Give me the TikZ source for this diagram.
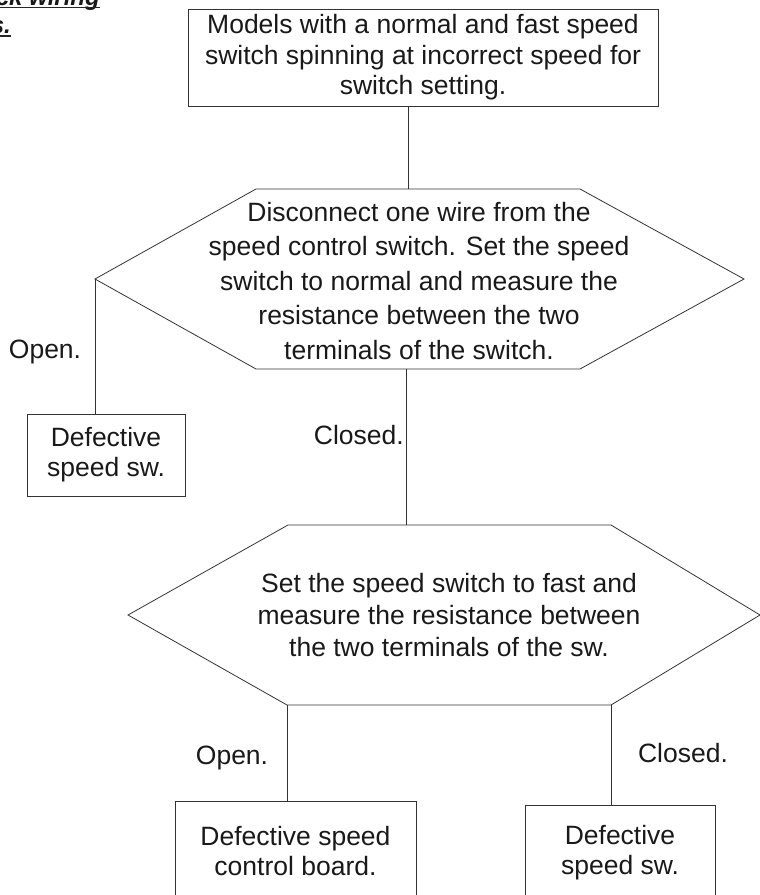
\documentclass[tikz,border=0pt]{standalone}
\usepackage{fontspec}
\setmainfont{Liberation Sans}
\begin{document}
\begin{tikzpicture}[x=1bp,y=-1bp,
  ln/.style={draw=black!80, line width=0.8bp},
  box/.style={draw=black!80, line width=0.8bp, align=center, inner sep=0pt, text=black!90},
  lbl/.style={text=black!90, inner sep=0pt, align=center},
  every node/.style={font=\fontsize{26.5bp}{33bp}\selectfont}]
\useasboundingbox (0,0) rectangle (760,895);

% cropped heading fragments
\node[lbl, anchor=base east, font=\fontsize{24bp}{28bp}\selectfont\bfseries\itshape] (hd1) at (100,5) {ck wiring};
\node[lbl, anchor=base east, font=\fontsize{24bp}{28bp}\selectfont\bfseries\itshape] (hd2) at (11,33) {s.};
\draw[black!85, line width=1.4bp] ([yshift=-2.5bp]hd1.base west) -- ([yshift=-2.5bp]hd1.base east);
\draw[black!85, line width=1.4bp] ([yshift=-3bp]hd2.base west) -- ([yshift=-3bp]hd2.base east);

% top box
\node[box, minimum width=470bp, minimum height=97bp, font=\fontsize{26.5bp}{30.5bp}\selectfont] (tb) at (423,57.5)
  {Models with a normal and fast speed\\switch spinning at incorrect speed for\\switch setting.};

% hexagon 1
\coordinate (h1a) at (256,189);
\coordinate (h1b) at (580,189);
\coordinate (h1c) at (744,279);
\coordinate (h1d) at (580,369);
\coordinate (h1e) at (256,369);
\coordinate (h1f) at (95,279);
\draw[ln] (h1a) -- (h1b) -- (h1c) -- (h1d) -- (h1e) -- (h1f) -- cycle;
\node[lbl, font=\fontsize{26.5bp}{34.5bp}\selectfont] (h1) at (419,281)
  {Disconnect one wire from the\\speed control switch. Set the speed\\switch to normal and measure the\\resistance between the two\\terminals of the switch.};
\coordinate (h1top) at (408,189);
\coordinate (h1bot) at (406,369);

% hexagon 2
\coordinate (h2a) at (288,525);
\coordinate (h2b) at (611,525);
\coordinate (h2c) at (760,615);
\coordinate (h2d) at (611,705);
\coordinate (h2e) at (287,705);
\coordinate (h2f) at (128,615);
\draw[ln] (h2a) -- (h2b) -- (h2c) -- (h2d) -- (h2e) -- (h2f) -- cycle;
\node[lbl, font=\fontsize{26.5bp}{32bp}\selectfont] (h2) at (449,615)
  {Set the speed switch to fast and\\measure the resistance between\\the two terminals of the sw.};
\coordinate (h2top) at (406,525);

% result boxes
\node[box, minimum width=158bp, minimum height=82bp, font=\fontsize{26.5bp}{30bp}\selectfont] (lb) at (106,455)
  {Defective\\speed sw.};
\node[box, minimum width=241bp, minimum height=100bp, font=\fontsize{26.5bp}{30bp}\selectfont] (blb) at (295.5,851)
  {Defective speed\\control board.};
\node[box, minimum width=190bp, minimum height=96bp, font=\fontsize{26.5bp}{30bp}\selectfont] (brb) at (620,853)
  {Defective\\speed sw.};

% connectors
\draw[ln] (tb.south -| h1top) -- (h1top);
\draw[ln] (h1f) -- (h1f |- lb.north);
\draw[ln] (h1bot) -- (h2top);
\draw[ln] (h2e) -- (h2e |- blb.north);
\draw[ln] (h2d) -- (h2d |- brb.north);

% labels
\node[lbl] (o1) at (45,352) {Open.};
\node[lbl, anchor=east] (c1) at (404,435) {Closed.};
\node[lbl] (o2) at (232,758) {Open.};
\node[lbl] (c2) at (683,753) {Closed.};
\end{tikzpicture}
\end{document}
